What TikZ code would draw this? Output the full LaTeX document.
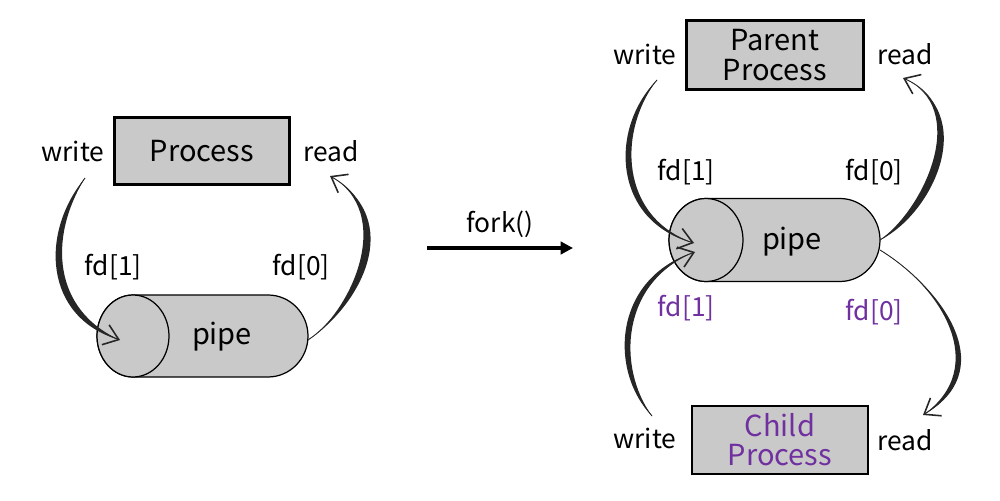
\documentclass[tikz,border=0pt]{standalone}
\usepackage{fontspec}
\setmainfont{Noto Sans CJK SC}
\usetikzlibrary{arrows.meta,shapes.geometric}
\definecolor{boxgray}{HTML}{C9C9C9}
\definecolor{kidpurple}{HTML}{7030A0}
\tikzset{
  lbl/.style={font=\fontsize{15}{18}\selectfont, inner sep=0pt},
  boxtxt/.style={font=\fontsize{16.5}{16.6}\selectfont, align=center},
  procbox/.style={draw=black, line width=1.2pt, fill=boxgray, inner sep=0pt, align=center},
  pipebody/.style={draw=black, line width=0.7pt, fill=boxgray},
  brush/.style={fill=black!85},
  tipline/.style={line width=0.5pt, black!85, -{Straight Barb[length=8pt,width=12pt,line width=0.9pt]}},
}
\begin{document}
\begin{tikzpicture}[x=0.02cm,y=-0.02cm]
\useasboundingbox (0,0) rectangle (1000,500);

% ===== Left diagram =====
\node[procbox, minimum width=3.5cm, minimum height=1.34cm, boxtxt] (proc) at (202,151) {Process};
\node[lbl] (w1) at (73,151) {write};
\node[lbl] (r1) at (331,151) {read};
\node[lbl] (fd1a) at (113,267) {fd[1]};
\node[lbl] (fd0a) at (301,267) {fd[0]};

\filldraw[pipebody] (133,295) -- (268,295)
  arc[start angle=90,end angle=-90,x radius=0.8cm,y radius=0.82cm]
  -- (133,377) arc[start angle=270,end angle=90,x radius=0.72cm,y radius=0.82cm] -- cycle;
\node[ellipse, draw=black, line width=0.7pt, fill=boxgray, minimum width=1.44cm, minimum height=1.64cm, inner sep=0pt] (pend1) at (133,336) {};
\node[lbl, font=\fontsize{16.5}{18}\selectfont] (pipe1) at (222,337) {pipe};
\coordinate (pr1) at (308,340);

% write arrow (left)
\coordinate (ws1) at (85,178);
\coordinate (wt1) at (120,340);
\fill[brush] (ws1) .. controls (40,232) and (43,318) .. (wt1) .. controls (53,310) and (48,238) .. (ws1);
\draw[tipline] (ws1) .. controls (44,235) and (48,314) .. (wt1);
% read arrow (left)
\coordinate (rt1) at (330,176);
\fill[brush] (pr1) .. controls (351,312) and (396,213) .. (rt1) .. controls (407,220) and (360,306) .. (pr1);
\draw[tipline] (pr1) .. controls (355,309) and (401,216) .. (rt1);

% ===== fork arrow =====
\node[lbl] (fork) at (500,224) {fork()};
\coordinate (fa) at (427,248);
\coordinate (fb) at (573,248);
\draw[line width=1.8pt, -{Triangle[length=7pt,width=7pt]}] (fa) -- (fb);

% ===== Right diagram =====
\node[procbox, minimum width=3.54cm, minimum height=1.38cm, boxtxt] (parent) at (775,55) {Parent\\Process};
\node[lbl] (w2) at (645,54) {write};
\node[lbl] (r2) at (905,54) {read};
\node[lbl] (fd1b) at (686,172) {fd[1]};
\node[lbl] (fd0b) at (874,172) {fd[0]};

\filldraw[pipebody] (706,198.5) -- (840,198.5)
  arc[start angle=90,end angle=-90,x radius=0.8cm,y radius=0.83cm]
  -- (706,281.5) arc[start angle=270,end angle=90,x radius=0.74cm,y radius=0.83cm] -- cycle;
\node[ellipse, draw=black, line width=0.7pt, fill=boxgray, minimum width=1.48cm, minimum height=1.66cm, inner sep=0pt] (pend2) at (706,240) {};
\node[lbl, font=\fontsize{16.5}{18}\selectfont] (pipe2) at (792,242) {pipe};
\coordinate (pr2) at (880,240);
\coordinate (pr3) at (880,250);

\node[lbl, text=kidpurple] (fd1c) at (686,308) {fd[1]};
\node[lbl, text=kidpurple] (fd0c) at (874,312) {fd[0]};

\node[procbox, minimum width=3.52cm, minimum height=1.36cm, boxtxt, text=kidpurple] (child) at (780,440) {Child\\Process};
\node[lbl] (w3) at (645,438) {write};
\node[lbl] (r3) at (905,440) {read};

% parent write
\coordinate (ws2) at (657,80);
\coordinate (wt2) at (694,243);
\fill[brush] (ws2) .. controls (609,128) and (612,222) .. (wt2) .. controls (620,218) and (617,132) .. (ws2);
\draw[tipline] (ws2) .. controls (613,130) and (616,220) .. (wt2);
% parent read
\coordinate (rt2) at (903,78);
\fill[brush] (pr2) .. controls (926,207) and (970,107) .. (rt2) .. controls (980,113) and (934,213) .. (pr2);
\draw[tipline] (pr2) .. controls (930,210) and (975,110) .. (rt2);
% child write
\coordinate (ws3) at (652,416);
\coordinate (wt3) at (695,252);
\fill[brush] (ws3) .. controls (609,372) and (612,278) .. (wt3) .. controls (620,282) and (617,368) .. (ws3);
\draw[tipline] (ws3) .. controls (613,370) and (616,280) .. (wt3);
% child read
\coordinate (rt3) at (923,415);
\fill[brush] (pr3) .. controls (941,287) and (991,367) .. (rt3) .. controls (999,373) and (949,293) .. (pr3);
\draw[tipline] (pr3) .. controls (945,290) and (995,370) .. (rt3);
\end{tikzpicture}
\end{document}
